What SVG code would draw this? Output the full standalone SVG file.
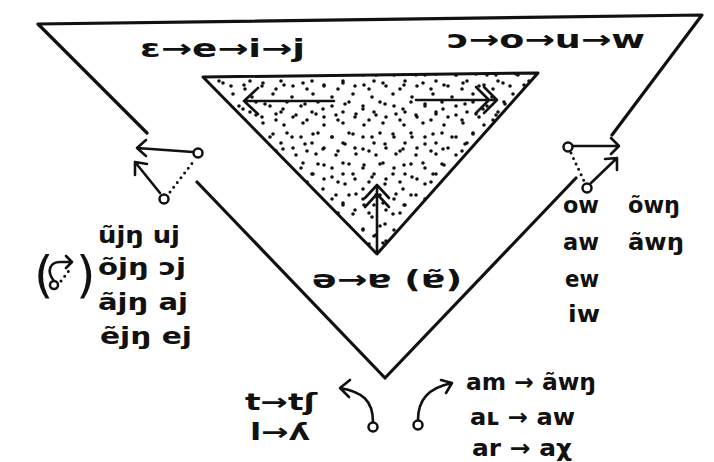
<svg xmlns="http://www.w3.org/2000/svg" width="714" height="462" viewBox="0 0 714 462">
<style>
.ln{fill:none;stroke:#111;stroke-width:3.2;stroke-linecap:round;stroke-linejoin:round}
.ar{fill:none;stroke:#111;stroke-width:2.6;stroke-linecap:round;stroke-linejoin:round}
.dt{fill:none;stroke:#111;stroke-width:3;stroke-linecap:round;stroke-dasharray:0 6}
.nd{fill:#fff;stroke:#111;stroke-width:2.5}
.t{font-family:"DejaVu Sans","Noto Sans",sans-serif;font-weight:bold;font-size:23px;fill:#111}
.b{font-size:25px}
.p{font-family:"DejaVu Sans",sans-serif;font-size:50px;fill:#111}
</style>
<defs>
<pattern id="stipA" width="40" height="40" patternUnits="userSpaceOnUse">
<g fill="#111">
<circle cx="4" cy="5" r="1.8"/><circle cx="23" cy="3" r="1.8"/><circle cx="33" cy="14" r="1.8"/><circle cx="12" cy="17" r="1.8"/>
<circle cx="3" cy="29" r="1.8"/><circle cx="25" cy="24" r="1.8"/><circle cx="16" cy="35" r="1.8"/><circle cx="36" cy="34" r="1.8"/>
</g>
</pattern>
<pattern id="stipB" width="31" height="31" patternUnits="userSpaceOnUse">
<g fill="#111">
<circle cx="8" cy="9" r="1.8"/><circle cx="22" cy="13" r="1.8"/><circle cx="14" cy="24" r="1.8"/><circle cx="28" cy="27" r="1.8"/><circle cx="2" cy="19" r="1.8"/>
</g>
</pattern>
</defs>
<rect width="714" height="462" fill="#fff"/>

<g id="outer-frame">
<polyline class="ln" points="147,133 38,24 702,15 612,135"/>
<polyline class="ln" points="197,182 385,378 576,178"/>
</g>

<g id="inner-triangle">
<polygon points="203,77 538,73 377,254" fill="url(#stipA)"/>
<polygon points="203,77 538,73 377,254" fill="url(#stipB)"/>
<polygon points="203,77 538,73 377,254" fill="none" stroke="#111" stroke-width="3" stroke-linejoin="round"/>
</g>

<g id="connectors">
<path class="ar" d="M334,101 H244 M258,88 L244,101 L258,114"/>
<path class="ar" d="M416,100 H497 M484,87 L497,100 L484,113 M476,87 L489,100 L476,113"/>
<path class="ar" d="M377,253 V185 M365,198 L377,185 L389,198 M365,207 L377,194 L389,207"/>
<path class="ar" d="M193,152 L137,148 M146,140 L137,148 L146,156"/>
<path class="ar" d="M160,193 L135,162 M135,175 L135,162 L147,164"/>
<line class="dt" x1="170" y1="192" x2="193" y2="162"/>
<path class="ar" d="M573,146 H619 M611,138 L619,146 L611,154"/>
<path class="ar" d="M591,183 L617,158 M605,159 L617,158 L617,170"/>
<line class="dt" x1="571" y1="153" x2="584" y2="181"/>
<path class="ar" d="M373,422 C373,400 362,392 340,388 M350,380 L340,388 L349,397"/>
<path class="ar" d="M418,420 C418,400 428,388 452,383 M441,380 L452,383 L446,393"/>
</g>

<g id="node-left-top"><circle class="nd" cx="198" cy="153" r="4.5"/></g>
<g id="node-left-bottom"><circle class="nd" cx="164" cy="199" r="4.5"/></g>
<g id="node-right-top"><circle class="nd" cx="568" cy="147" r="4.5"/></g>
<g id="node-right-bottom"><circle class="nd" cx="587" cy="188" r="4.5"/></g>
<g id="node-bottom-left"><circle class="nd" cx="373" cy="427" r="4.5"/></g>
<g id="node-bottom-right"><circle class="nd" cx="418" cy="425" r="4.5"/></g>

<g id="label-front-chain"><text class="t b" x="140" y="57" textLength="165" lengthAdjust="spacingAndGlyphs">ɛ→e→i→j</text></g>
<g id="label-back-chain"><text class="t b" x="447" y="48" textLength="198" lengthAdjust="spacingAndGlyphs">ɔ→o→u→w</text></g>
<g id="label-central"><text class="t b" x="312" y="288" textLength="150" lengthAdjust="spacingAndGlyphs">ə→ɐ (ɐ̃)</text></g>

<g id="label-left-column">
<text class="t" x="98" y="243" textLength="82" lengthAdjust="spacingAndGlyphs">ũjŋ uj</text>
<text class="t" x="98" y="275" textLength="88" lengthAdjust="spacingAndGlyphs">õjŋ ɔj</text>
<text class="t" x="98" y="310" textLength="90" lengthAdjust="spacingAndGlyphs">ãjŋ aj</text>
<text class="t" x="100" y="344" textLength="92" lengthAdjust="spacingAndGlyphs">ẽjŋ ej</text>
</g>
<g id="label-left-icon">
<text class="p" x="34" y="292">(</text>
<text class="p" x="76" y="292">)</text>
<path class="ar" d="M54,281 C46,271 50,262 60,262 L72,262 M66,256 L72,262 L66,268"/>
<line class="dt" x1="61" y1="281" x2="71" y2="268"/>
<circle class="nd" cx="54" cy="285" r="4"/>
</g>

<g id="label-right-column">
<text class="t" x="563" y="213" textLength="36" lengthAdjust="spacingAndGlyphs">ow</text>
<text class="t" x="628" y="213" textLength="52" lengthAdjust="spacingAndGlyphs">õwŋ</text>
<text class="t" x="563" y="250" textLength="36" lengthAdjust="spacingAndGlyphs">aw</text>
<text class="t" x="628" y="250" textLength="56" lengthAdjust="spacingAndGlyphs">ãwŋ</text>
<text class="t" x="565" y="287" textLength="34" lengthAdjust="spacingAndGlyphs">ew</text>
<text class="t" x="568" y="322" textLength="32" lengthAdjust="spacingAndGlyphs">iw</text>
</g>

<g id="label-bottom-right">
<text class="t" x="466" y="390" textLength="130" lengthAdjust="spacingAndGlyphs">am → ãwŋ</text>
<text class="t" x="470" y="425" textLength="105" lengthAdjust="spacingAndGlyphs">aʟ → aw</text>
<text class="t" x="472" y="456" textLength="100" lengthAdjust="spacingAndGlyphs">ar → aχ</text>
</g>

<g id="label-bottom-left">
<text class="t" x="245" y="410" textLength="72" lengthAdjust="spacingAndGlyphs">t→tʃ</text>
<text class="t" x="250" y="440" textLength="60" lengthAdjust="spacingAndGlyphs">l→ʎ</text>
</g>
</svg>
